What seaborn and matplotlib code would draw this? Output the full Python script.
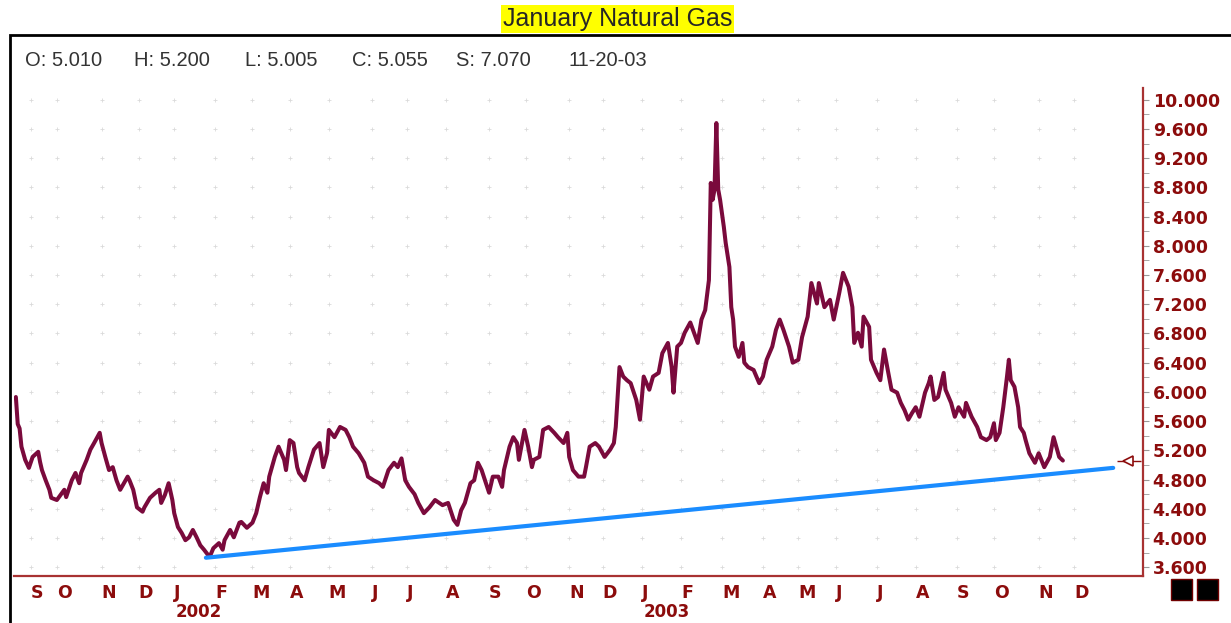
import numpy as np
import pandas as pd
import seaborn as sns
import matplotlib.pyplot as plt
from matplotlib.patches import Rectangle
from matplotlib.ticker import AutoMinorLocator

# daily bar index (trading sessions) and price
bar = [0, 1, 2, 3, 5, 7, 9, 12, 13, 14, 16, 18, 19, 22, 24, 26, 27, 30, 32, 34,
       35, 38, 40, 42, 45, 46, 48, 50, 52, 54, 56, 58, 60, 61, 63, 65, 68, 69, 72, 75,
       77, 78, 80, 82, 84, 85, 87, 89, 91, 93, 95, 97, 99, 101, 104, 106, 109, 111, 112, 115,
       117, 120, 121, 124, 127, 129, 131, 133, 135, 136, 139, 141, 144, 145, 147, 149, 151, 152, 155, 157,
       160, 163, 165, 167, 168, 171, 174, 177, 179, 181, 184, 187, 189, 192, 195, 197, 200, 203, 205, 207,
       209, 211, 214, 216, 219, 222, 225, 229, 232, 235, 237, 239, 241, 244, 246, 248, 250, 253, 254, 256,
       259, 261, 262, 265, 267, 269, 270, 273, 275, 277, 278, 281, 283, 286, 289, 291, 294, 296, 297, 299,
       302, 305, 306, 308, 311, 313, 316, 319, 321, 322, 324, 326, 328, 330, 333, 335, 337, 340, 342, 345,
       347, 350, 352, 353, 355, 357, 359, 362, 364, 366, 368, 370, 372, 373, 374, 375, 376, 377, 378, 380,
       381, 383, 384, 385, 386, 388, 390, 391, 393, 396, 399, 401, 403, 406, 408, 410, 412, 415, 417, 420,
       422, 425, 427, 430, 431, 434, 437, 439, 442, 444, 447, 449, 450, 452, 454, 455, 458, 459, 462, 464,
       466, 468, 470, 473, 475, 477, 479, 481, 483, 485, 488, 490, 491, 493, 495, 498, 499, 502, 504, 506,
       509, 510, 513, 516, 518, 521, 523, 525, 526, 528, 530, 532, 533, 534, 536, 538, 539, 541, 542, 544,
       547, 549, 552, 555, 557, 560, 562]
close = [5.93, 5.56, 5.50, 5.25, 5.07, 4.96, 5.11, 5.18, 5.04, 4.93, 4.79, 4.66, 4.55, 4.52, 4.59, 4.66, 4.56, 4.79, 4.89, 4.75,
         4.89, 5.07, 5.21, 5.30, 5.44, 5.30, 5.11, 4.93, 4.97, 4.79, 4.66, 4.75, 4.84, 4.79, 4.66, 4.42, 4.36, 4.42, 4.55, 4.62,
         4.66, 4.48, 4.59, 4.75, 4.52, 4.34, 4.15, 4.07, 3.97, 4.01, 4.11, 4.01, 3.90, 3.84, 3.74, 3.86, 3.93, 3.84, 3.97, 4.11,
         4.01, 4.21, 4.22, 4.14, 4.21, 4.34, 4.56, 4.75, 4.62, 4.84, 5.11, 5.25, 5.07, 4.93, 5.34, 5.30, 4.97, 4.89, 4.79, 4.97,
         5.21, 5.30, 4.97, 5.16, 5.48, 5.38, 5.52, 5.48, 5.38, 5.25, 5.16, 5.03, 4.84, 4.79, 4.75, 4.70, 4.93, 5.03, 4.97, 5.09,
         4.79, 4.70, 4.60, 4.48, 4.34, 4.42, 4.52, 4.45, 4.48, 4.25, 4.18, 4.38, 4.48, 4.75, 4.79, 5.03, 4.93, 4.70, 4.62, 4.84,
         4.84, 4.70, 4.93, 5.25, 5.38, 5.30, 5.07, 5.48, 5.25, 4.97, 5.07, 5.11, 5.48, 5.52, 5.44, 5.38, 5.30, 5.44, 5.11, 4.93,
         4.84, 4.84, 4.97, 5.25, 5.30, 5.25, 5.11, 5.21, 5.30, 5.52, 6.34, 6.21, 6.16, 6.12, 5.89, 5.62, 6.21, 6.03, 6.21, 6.26,
         6.53, 6.67, 6.34, 5.99, 6.62, 6.67, 6.81, 6.95, 6.81, 6.67, 6.99, 7.12, 7.53, 8.86, 8.63, 8.77, 9.68, 8.77, 8.63, 8.26,
         8.04, 7.71, 7.16, 6.99, 6.62, 6.48, 6.67, 6.40, 6.34, 6.30, 6.12, 6.21, 6.44, 6.62, 6.85, 6.99, 6.85, 6.62, 6.40, 6.44,
         6.75, 7.03, 7.49, 7.21, 7.49, 7.16, 7.26, 6.99, 7.36, 7.63, 7.44, 7.16, 6.67, 6.81, 6.62, 7.03, 6.89, 6.44, 6.26, 6.16,
         6.58, 6.30, 6.03, 5.99, 5.85, 5.75, 5.62, 5.71, 5.79, 5.66, 5.99, 6.12, 6.21, 5.89, 5.93, 6.26, 6.03, 5.85, 5.66, 5.79,
         5.66, 5.85, 5.66, 5.52, 5.38, 5.34, 5.38, 5.57, 5.34, 5.44, 5.79, 6.21, 6.44, 6.16, 6.07, 5.79, 5.52, 5.44, 5.34, 5.16,
         5.03, 5.16, 4.97, 5.11, 5.38, 5.11, 5.06]

# support trendline (start / end)
trend_bar = [102, 589]
trend_val = [3.73, 4.96]

# month starts in bar units, Sep 2001 .. Dec 2003
month_bar = [8, 22, 46, 66, 85, 107, 127, 147, 168, 191, 210, 231, 254, 274,
             297, 315, 336, 357, 379, 401, 420, 440, 462, 483, 505, 525, 549, 568]
month_lbl = list("SONDJFMAMJJASONDJFMAMJJASOND")
year_bar = [85, 336]
year_lbl = ["2002", "2003"]
y_ticks = [3.6, 4.0, 4.4, 4.8, 5.2, 5.6, 6.0, 6.4, 6.8, 7.2, 7.6, 8.0, 8.4, 8.8, 9.2, 9.6, 10.0]

header_keys = ["O", "H", "L", "C", "S"]
header_vals = [5.010, 5.200, 5.005, 5.055, 7.070]
header_date = "11-20-03"

PRICE = "#7a0a3c"
AXRED = "#8c0c0c"
SPINE = "#a83232"

sns.set_style("white")
plt.rcParams["font.family"] = ["DejaVu Sans"]

W, H = 1231, 623
fig = plt.figure(figsize=(W / 100, H / 100), dpi=100)
ax = fig.add_axes([14 / W, 47 / H, 1129 / W, 488 / H])

# dotted grid at tick intersections
gx, gy = np.meshgrid(month_bar, y_ticks)
ax.scatter(gx.ravel(), gy.ravel(), marker="+", s=7, color="#dadada", lw=0.6, zorder=0)

sns.lineplot(x=bar, y=close, ax=ax, color=PRICE, lw=2.9, estimator=None, zorder=3)
sns.lineplot(x=trend_bar, y=trend_val, ax=ax, color="#1a8cff", lw=3.0, estimator=None, zorder=4)

ax.set_xlim(-1, 605)
ax.set_ylim(3.48, 10.16)

# last price marker
last = header_vals[3]
ax.hlines(last, 591, 604, color=AXRED, lw=1)
ax.plot([597], [last], marker="<", ms=7, mfc="white", mec=AXRED, mew=1.2, ls="none")

for s in ["top", "left"]:
    ax.spines[s].set_visible(False)
for s in ["bottom", "right"]:
    ax.spines[s].set_color(SPINE)
    ax.spines[s].set_linewidth(1.6)

ax.yaxis.tick_right()
ax.set_yticks(y_ticks)
ax.yaxis.set_major_formatter("{x:.3f}")
ax.yaxis.set_minor_locator(AutoMinorLocator(2))
ax.tick_params(axis="y", which="both", direction="out", length=4, color="#999999",
               pad=3, labelsize=12.5, labelcolor=AXRED)
ax.set_xticks(month_bar, month_lbl)
ax.tick_params(axis="x", direction="out", length=4, color="#999999", pad=2,
               labelsize=12.5, labelcolor=AXRED)
for t in ax.get_xticklabels():
    t.set_ha("left")
    t.set_fontweight("bold")
for t in ax.get_yticklabels():
    t.set_fontweight("bold")
ax.set_xlabel("")
ax.set_ylabel("")

for xb, yl in zip(year_bar, year_lbl):
    ax.text(xb + 1, -0.074, yl, transform=ax.get_xaxis_transform(), ha="left", va="center",
            fontsize=12, color=AXRED, fontweight="bold")

# header line
hx = [25, 134, 245, 352, 456]
for x, k, v in zip(hx, header_keys, header_vals):
    fig.text(x / W, 1 - 61 / H, f"{k}: {v:.3f}", ha="left", va="center", fontsize=14.5,
             color="#333333", family=["Liberation Sans"])
fig.text(568 / W, 1 - 61 / H, header_date, ha="left", va="center", fontsize=14.5,
         color="#333333", family=["Liberation Sans"])

fig.text(617.5 / W, 1 - 19 / H, "January Natural Gas", ha="center", va="center",
         fontsize=18, family=["Liberation Sans"],
         bbox=dict(facecolor="#ffff00", edgecolor="none", pad=1.5))

# outer frame and corner boxes
fig.add_artist(Rectangle((10 / W, -0.05), 1.0, 1 - 35 / H + 0.05, transform=fig.transFigure,
                         fill=False, ec="black", lw=2))
for x0 in [1171, 1197]:
    fig.add_artist(Rectangle((x0 / W, 1 - 600 / H), 21 / W, 21 / H, transform=fig.transFigure,
                             fc="black", ec="#700000", lw=1))

fig.savefig("out.png", dpi=100, facecolor="white")
